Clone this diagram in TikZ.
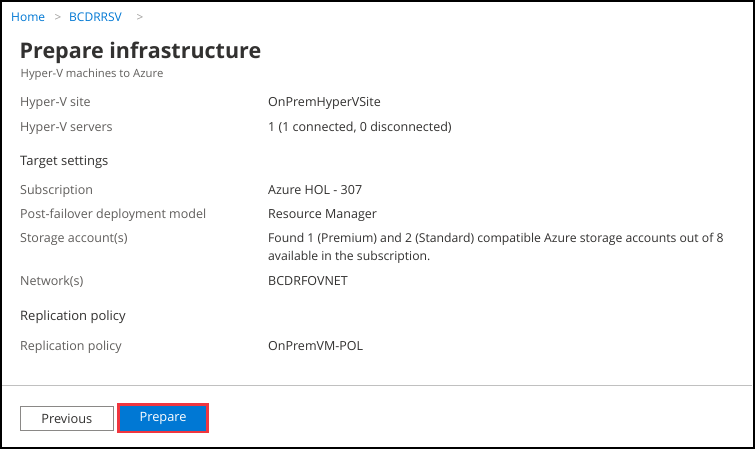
\documentclass[tikz,border=0pt]{standalone}
\usepackage{fontspec}
\setmainfont{Open Sans}
\usetikzlibrary{positioning}

\definecolor{azblue}{HTML}{0078D4}
\definecolor{labelgray}{HTML}{605E5C}
\definecolor{valuedark}{HTML}{323130}
\definecolor{crumbgray}{HTML}{A19F9D}
\definecolor{rulegray}{HTML}{C0C0C0}
\definecolor{btngray}{HTML}{8A8886}
\definecolor{hilite}{HTML}{F0363F}

\begin{document}
\begin{tikzpicture}[x=1pt, y=-1pt]

\tikzstyle{label}=[anchor=base west, inner sep=0pt, text=labelgray, font=\fontsize{12.5}{14}\selectfont]
\tikzstyle{value}=[anchor=base west, inner sep=0pt, text=valuedark, font=\fontsize{12.5}{14}\selectfont]
\tikzstyle{heading}=[anchor=base west, inner sep=0pt, text=valuedark, font=\fontsize{13}{15}\selectfont]
\tikzstyle{crumb}=[anchor=base west, inner sep=0pt, text=azblue, font=\fontsize{12}{13}\selectfont]
\tikzstyle{chevron}=[anchor=base west, inner sep=0pt, text=crumbgray, font=\fontsize{11.8}{13}\selectfont]
\tikzstyle{button}=[rectangle, inner sep=0pt, font=\fontsize{12.8}{14}\selectfont]

\useasboundingbox (0,0) rectangle (755,449);
\fill[white] (0,0) rectangle (755,449);

% breadcrumb
\node[crumb] (home) at (11,22) {Home};
\node[chevron] (chev1) at (54.5,22) {>};
\node[crumb] (vault) at (69,22) {BCDRRSV};
\node[chevron] (chev2) at (136.5,22) {>};

% title
\node[anchor=base west, inner sep=0pt, text=valuedark, font=\fontsize{21.5}{24}\bfseries] (title) at (19.5,58.5) {Prepare infrastructure};
\node[anchor=base west, inner sep=0pt, text=labelgray, font=\fontsize{11.3}{13}\selectfont] (subtitle) at (20.5,77.5) {Hyper-V machines to Azure};

% source
\node[label] (sitel) at (20,107) {Hyper-V site};
\node[value] (sitev) at (268,107) {OnPremHyperVSite};
\node[label] (srvl) at (20,132) {Hyper-V servers};
\node[value] (srvv) at (268,132) {1 (1 connected, 0 disconnected)};

% target
\node[heading] (target) at (20,166) {Target settings};
\node[label] (subl) at (20,195) {Subscription};
\node[value] (subv) at (268,195) {Azure HOL - 307};
\node[label] (modell) at (20,219) {Post-failover deployment model};
\node[value] (modelv) at (268,219) {Resource Manager};
\node[label] (storl) at (20,243) {Storage account(s)};
\node[value, font=\fontsize{12.2}{14}\selectfont] (storv) at (268,243) {Found 1 (Premium) and 2 (Standard) compatible Azure storage accounts out of 8};
\node[value, font=\fontsize{12.2}{14}\selectfont] (storv2) at (268,261) {available in the subscription.};
\node[label] (netl) at (20,285) {Network(s)};
\node[value] (netv) at (268,285) {BCDRFOVNET};

% replication
\node[heading] (repl) at (20,320) {Replication policy};
\node[label] (poll) at (20,350) {Replication policy};
\node[value] (polv) at (268,350) {OnPremVM-POL};

% footer
\draw[rulegray, line width=1pt] (0,385.5) -- (752,385.5);

\node[button, draw=btngray, line width=1pt, text=valuedark, minimum width=93pt, minimum height=24pt] (prev) at (66.8,418.7) {Previous};
\node[button, fill=azblue, draw=hilite, line width=2.7pt, text=white, minimum width=88.8pt, minimum height=27.3pt] (prep) at (163.1,418.3) {Prepare};

% frame
\draw[black, line width=2pt] (1,1) rectangle (753.5,447.5);

\end{tikzpicture}
\end{document}
